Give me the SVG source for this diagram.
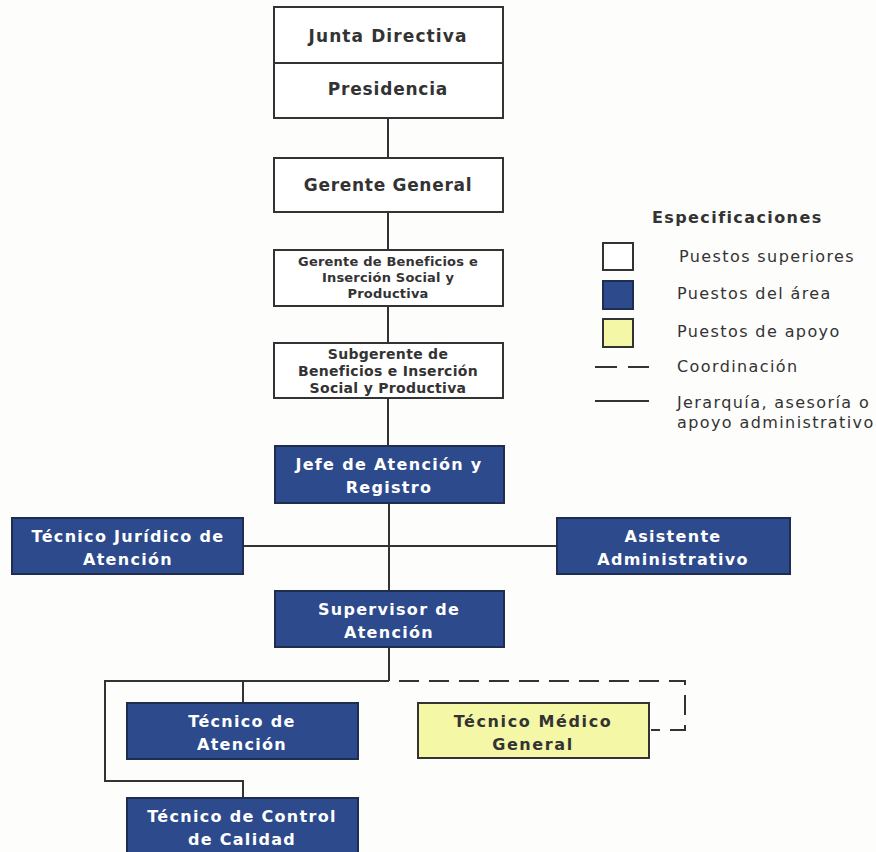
<svg xmlns="http://www.w3.org/2000/svg" width="876" height="852" viewBox="0 0 876 852">
<style>
.w{fill:#ffffff;stroke:#333333;stroke-width:2}
.b{fill:#2c4a8c;stroke:#1e2d50;stroke-width:2}
.y{fill:#f4f7a6;stroke:#333333;stroke-width:2}
.tw{font-family:"DejaVu Sans",Verdana,sans-serif;font-weight:bold;fill:#333333;text-anchor:middle}
.tb{font-family:"DejaVu Sans",Verdana,sans-serif;font-weight:bold;fill:#ffffff;text-anchor:middle;font-size:16px;letter-spacing:1.3px}
.ty{font-family:"DejaVu Sans",Verdana,sans-serif;font-weight:bold;fill:#333333;text-anchor:middle;font-size:16px;letter-spacing:1.6px}
.lg{font-family:"DejaVu Sans",Verdana,sans-serif;fill:#333333;font-size:16px;letter-spacing:1.4px}
.ln{stroke:#333333;stroke-width:2;fill:none}
.ds{stroke:#333333;stroke-width:2;fill:none;stroke-dasharray:20,10}
</style>
<rect width="876" height="852" fill="#fdfdfb"/>
<g id="connectors">
<line class="ln" x1="388" y1="118" x2="388" y2="158"/>
<line class="ln" x1="388" y1="212" x2="388" y2="250"/>
<line class="ln" x1="388" y1="306" x2="388" y2="343"/>
<line class="ln" x1="388" y1="398" x2="388" y2="446"/>
<line class="ln" x1="389" y1="503" x2="389" y2="591"/>
<line class="ln" x1="243" y1="546" x2="557" y2="546"/>
<line class="ln" x1="389" y1="647" x2="389" y2="681"/>
<polyline class="ln" points="389,681 105,681 105,781 243,781 243,798"/>
<line class="ln" x1="243" y1="681" x2="243" y2="703"/>
<polyline class="ds" points="399,681 685,681 685,730 651,730"/>
</g>
<g id="junta"><rect class="w" x="274" y="7" width="229" height="56"/><text class="tw" x="388" y="42" font-size="17" letter-spacing="1.1">Junta Directiva</text></g>
<g id="presidencia"><rect class="w" x="274" y="63" width="229" height="55"/><text class="tw" x="388" y="95" font-size="17" letter-spacing="0.8">Presidencia</text></g>
<g id="gerente-general"><rect class="w" x="274" y="158" width="229" height="54"/><text class="tw" x="388" y="191" font-size="17" letter-spacing="0.7">Gerente General</text></g>
<g id="gerente-beneficios"><rect class="w" x="274" y="250" width="229" height="56"/><text class="tw" x="388" y="266" font-size="13" letter-spacing="0.2">Gerente de Beneficios e</text><text class="tw" x="388" y="282" font-size="13" letter-spacing="0.2">Inserción Social y</text><text class="tw" x="388" y="298" font-size="13" letter-spacing="0.2">Productiva</text></g>
<g id="subgerente"><rect class="w" x="274" y="343" width="229" height="55"/><text class="tw" x="388" y="359" font-size="14" letter-spacing="0.3">Subgerente de</text><text class="tw" x="388" y="376" font-size="14" letter-spacing="0.3">Beneficios e Inserción</text><text class="tw" x="388" y="393" font-size="14" letter-spacing="0.3">Social y Productiva</text></g>
<g id="jefe"><rect class="b" x="275" y="446" width="229" height="57"/><text class="tb" x="389" y="470">Jefe de Atención y</text><text class="tb" x="389" y="493">Registro</text></g>
<g id="juridico"><rect class="b" x="12" y="518" width="231" height="56"/><text class="tb" x="128" y="542">Técnico Jurídico de</text><text class="tb" x="128" y="565">Atención</text></g>
<g id="asistente"><rect class="b" x="557" y="518" width="233" height="56"/><text class="tb" x="673" y="542">Asistente</text><text class="tb" x="673" y="565">Administrativo</text></g>
<g id="supervisor"><rect class="b" x="275" y="591" width="229" height="56"/><text class="tb" x="389" y="615">Supervisor de</text><text class="tb" x="389" y="638">Atención</text></g>
<g id="tecnico-atencion"><rect class="b" x="127" y="703" width="231" height="56"/><text class="tb" x="242" y="727">Técnico de</text><text class="tb" x="242" y="750">Atención</text></g>
<g id="tecnico-medico"><rect class="y" x="418" y="703" width="231" height="55"/><text class="ty" x="533" y="727">Técnico Médico</text><text class="ty" x="533" y="750">General</text></g>
<g id="tecnico-control"><rect class="b" x="127" y="798" width="231" height="58"/><text class="tb" x="242" y="822">Técnico de Control</text><text class="tb" x="242" y="845">de Calidad</text></g>
<g id="legend">
<text class="lg" x="652" y="223" font-weight="bold" letter-spacing="2">Especificaciones</text>
<rect class="w" x="603" y="243" width="30" height="27"/>
<text class="lg" x="679" y="262">Puestos superiores</text>
<rect class="b" x="603" y="281" width="30" height="28"/>
<text class="lg" x="677" y="299">Puestos del área</text>
<rect class="y" x="603" y="319" width="30" height="28"/>
<text class="lg" x="677" y="337">Puestos de apoyo</text>
<line class="ln" x1="595" y1="367" x2="617" y2="367"/>
<line class="ln" x1="628" y1="367" x2="649" y2="367"/>
<text class="lg" x="677" y="372">Coordinación</text>
<line class="ln" x1="595" y1="401" x2="649" y2="401"/>
<text class="lg" x="677" y="408">Jerarquía, asesoría o</text>
<text class="lg" x="677" y="428">apoyo administrativo</text>
</g>
</svg>
